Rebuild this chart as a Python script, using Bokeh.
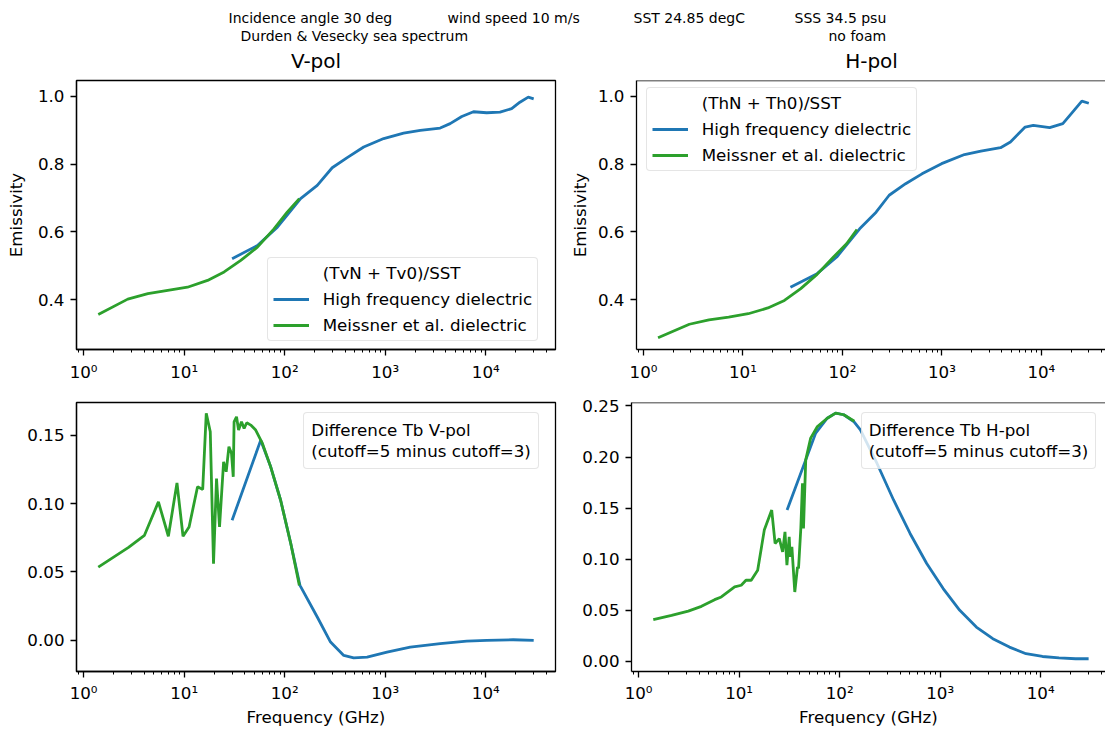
import numpy as np
from bokeh.plotting import figure
from bokeh.models import (Range1d, FixedTicker, CustomJSTickFormatter, PrintfTickFormatter,
                          Legend, LegendItem, Label, Span)
from bokeh.layouts import column, row
from bokeh.embed import file_html
from bokeh.resources import INLINE

# ---------------- data ----------------
# Top-left: V-pol emissivity
V_HF_FREQ = [30, 53.6, 84.7, 144, 211, 297, 419, 611, 966, 1524, 2234, 3524, 4426,
             5781, 7551, 10230, 13870, 18110, 21880, 26490, 30000]
V_HF_EMIS = [0.521, 0.560, 0.614, 0.698, 0.737, 0.789, 0.819, 0.850, 0.875, 0.891, 0.899,
             0.906, 0.919, 0.940, 0.954, 0.951, 0.953, 0.963, 0.982, 0.997, 0.992]
V_ME_FREQ = [1.4, 2.75, 4.36, 6.87, 10.8, 17.1, 25.0, 36.6, 53.6, 78.3, 106, 140]
V_ME_EMIS = [0.357, 0.402, 0.418, 0.428, 0.437, 0.457, 0.482, 0.516, 0.555,
             0.609, 0.658, 0.698]

# Top-right: H-pol emissivity
H_HF_FREQ = [30, 55.6, 87.7, 149, 218, 295, 432, 631, 993, 1687, 2466, 3890, 4887,
             6871, 8299, 12130, 16440, 20610, 25530, 30000]
H_HF_EMIS = [0.437, 0.477, 0.526, 0.609, 0.658, 0.708, 0.742, 0.771, 0.801, 0.828, 0.838,
             0.848, 0.865, 0.909, 0.914, 0.907, 0.919, 0.953, 0.985, 0.979]
H_ME_FREQ = [1.4, 2.89, 4.55, 7.18, 11.3, 17.8, 26.1, 38.1, 55.6, 81.3, 110, 140]
H_ME_EMIS = [0.288, 0.328, 0.341, 0.349, 0.359, 0.376, 0.398, 0.433, 0.475,
             0.526, 0.565, 0.607]

# Bottom-left: difference Tb V-pol
DV_HF_FREQ = [30, 57.8, 72.6, 91.2, 115, 142, 211, 286, 387, 486, 661, 1042, 1774,
              3524, 6471, 10230, 18790, 30000]
DV_HF_DIFF = [0.0878, 0.1463, 0.1268, 0.1024, 0.0708, 0.0402, 0.0171, -0.0012, -0.0110,
              -0.0127, -0.0122, -0.0085, -0.0049, -0.0024, -0.0005, 0.0, 0.0005, 0.0]
DV_ME_FREQ = [1.4, 2.8, 4.03, 5.55, 6.97, 8.49, 9.75, 11.2, 13.6, 15.3, 16.6, 18.2, 19.6,
              21.0, 22.5, 24.7, 26.2, 27.9, 29.6, 30.8, 31.4, 33.2, 34.8, 37.2, 39.5,
              42.0, 46.0, 51.5, 60.1, 72.6, 91.2, 115, 140]
DV_ME_DIFF = [0.0536, 0.0680, 0.0768, 0.1012, 0.0761, 0.1151, 0.0761, 0.0829, 0.1122,
              0.1103, 0.1659, 0.1524, 0.0561, 0.1183, 0.0829, 0.1305, 0.1232, 0.1415,
              0.1366, 0.1195, 0.1597, 0.1634, 0.1537, 0.1597, 0.1549, 0.1590, 0.1573,
              0.1537, 0.1439, 0.1268, 0.1024, 0.0708, 0.0402]

# Bottom-right: difference Tb H-pol
DH_HF_FREQ = [30, 57.8, 75.3, 91.2, 110, 138, 161, 235, 344, 502, 735, 1072, 1567, 2291,
              3342, 4887, 7145, 10420, 15240, 22280, 30000]
DH_HF_DIFF = [0.148, 0.2234, 0.2380, 0.2430, 0.2414, 0.2348, 0.2266, 0.1939, 0.1579,
              0.1251, 0.0957, 0.0711, 0.0498, 0.0334, 0.0220, 0.0138, 0.0073, 0.0046,
              0.0033, 0.0024, 0.0024]
DH_ME_FREQ = [1.4, 2.13, 3.12, 4.22, 5.71, 6.65, 9.02, 10.5, 11.7, 13.2, 15.3, 17.8, 21.1,
              22.8, 25.1, 27.1, 28.6, 29.9, 31.5, 32.2, 33.5, 35.8, 38.1, 39.0, 41.1,
              42.7, 43.7, 46.0, 51.5, 60.1, 75.3, 91.2, 110, 140]
DH_ME_DIFF = [0.0407, 0.0449, 0.0491, 0.0537, 0.0603, 0.0629, 0.0727, 0.0744, 0.0793,
              0.0793, 0.0891, 0.1284, 0.1480, 0.1153, 0.1200, 0.1071, 0.1267, 0.0940,
              0.1218, 0.1022, 0.1120, 0.0678, 0.0923, 0.0908, 0.1300, 0.1743, 0.1300,
              0.1972, 0.2185, 0.2299, 0.2380, 0.2430, 0.2414, 0.2350]

# tick values / labels
X_DECADES = [1, 10, 100, 1000, 10000]
X_DECADE_LABELS = ["10\u2070", "10\u00b9", "10\u00b2", "10\u00b3", "10\u2074"]
Y_TICKS_TOP = [0.4, 0.6, 0.8, 1.0]
Y_TICKS_DV = [0.0, 0.05, 0.10, 0.15]
Y_TICKS_DH = [0.0, 0.05, 0.10, 0.15, 0.20, 0.25]

HEADER_LINE1 = ["Incidence angle 30 deg", "wind speed 10 m/s", "SST 24.85 degC", "SSS 34.5 psu"]
HEADER_LINE2 = ["Durden & Vesecky sea spectrum", "no foam"]
PANEL_TITLES = ["V-pol", "H-pol"]

# ---------------- styling ----------------
FONT = "DejaVu Sans"
BLUE = "#1f77b4"
GREEN = "#2ca02c"
LW = 2.8
FS = "16.7px"

X_START = 0.85
X_END_LEFT = 49430
X_END_RIGHT = 44160
MINOR = [m * 10.0 ** e for e in range(-1, 5) for m in range(2, 10)]


def make_fig(width, height, mbl, mbr, mbt, mbb, x_end, y0, y1, yticks, yfmt, right=False):
    p = figure(width=width, height=height, x_axis_type="log",
               x_range=Range1d(X_START, x_end), y_range=Range1d(y0, y1),
               output_backend="svg", toolbar_location=None, title=None,
               min_border_left=mbl, min_border_right=mbr,
               min_border_top=mbt, min_border_bottom=mbb)
    p.grid.visible = False
    p.background_fill_color = "white"
    p.border_fill_color = "white"
    if right:
        p.outline_line_color = None
        p.add_layout(Span(location=y1, dimension="width", line_color="black",
                          line_width=1.3))
    else:
        p.outline_line_color = "black"
        p.outline_line_width = 1.3
    for ax in p.axis:
        ax.axis_line_color = "black"
        ax.axis_line_width = 1.3
        ax.major_tick_line_color = "black"
        ax.major_tick_line_width = 1.3
        ax.major_tick_in = 0
        ax.major_tick_out = 6
        ax.minor_tick_line_color = "black"
        ax.minor_tick_line_width = 1
        ax.minor_tick_in = 0
        ax.minor_tick_out = 3
        ax.major_label_text_font = FONT
        ax.major_label_text_font_size = FS
        ax.major_label_text_color = "black"
        ax.major_label_standoff = 6
        ax.axis_label_text_font = FONT
        ax.axis_label_text_font_size = FS
        ax.axis_label_text_font_style = "normal"
        ax.axis_label_text_color = "black"
    p.xaxis.ticker = FixedTicker(ticks=X_DECADES, minor_ticks=MINOR)
    p.xaxis.formatter = CustomJSTickFormatter(
        args=dict(vals=X_DECADES, labs=X_DECADE_LABELS),
        code="""
        for (let i = 0; i < vals.length; i++) {
            if (Math.abs(tick - vals[i]) < 1e-6 * vals[i]) { return labs[i]; }
        }
        return "";
        """)
    p.yaxis.ticker = FixedTicker(ticks=yticks)
    p.yaxis.formatter = PrintfTickFormatter(format=yfmt)
    p.yaxis.minor_tick_line_color = None
    return p


def style_legend(lg):
    lg.label_text_font = FONT
    lg.label_text_font_size = FS
    lg.label_text_color = "black"
    lg.border_line_color = "#cccccc"
    lg.border_line_width = 1
    lg.background_fill_color = "white"
    lg.background_fill_alpha = 0.8
    lg.margin = 0
    lg.label_height = 20
    lg.glyph_height = 20
    lg.border_radius = 4


def emis_legend(p, title, r_hf, r_me, loc):
    dummy = p.line(x=[], y=[], line_alpha=0)
    lg = Legend(items=[LegendItem(label=title, renderers=[dummy]),
                       LegendItem(label="High frequency dielectric", renderers=[r_hf]),
                       LegendItem(label="Meissner et al. dielectric", renderers=[r_me])],
                location=loc)
    style_legend(lg)
    lg.glyph_width = 36
    lg.label_standoff = 14
    lg.padding = 5
    lg.spacing = 6
    p.add_layout(lg)


def diff_legend(p, line1, loc):
    dummy = p.line(x=[], y=[], line_alpha=0)
    lg = Legend(items=[LegendItem(label=line1, renderers=[dummy]),
                       LegendItem(label="(cutoff=5 minus cutoff=3)", renderers=[dummy])],
                location=loc)
    style_legend(lg)
    lg.glyph_width = 0
    lg.label_standoff = 0
    lg.padding = 7
    lg.spacing = 1
    p.add_layout(lg)


# ---------------- header ----------------
HEADER_H = 76
header = figure(width=1105, height=HEADER_H, x_range=Range1d(0, 1105),
                y_range=Range1d(HEADER_H, 0),
                output_backend="svg", toolbar_location=None, title=None,
                x_axis_location=None, y_axis_location=None, min_border=0)
header.grid.visible = False
header.outline_line_color = None
header.background_fill_color = "white"
header.border_fill_color = "white"
for txt, x in zip(HEADER_LINE1, [228, 447, 633, 794]):
    header.add_layout(Label(x=x, y=17, text=txt, text_font=FONT, text_font_size="14px",
                            text_baseline="middle", text_align="left", text_color="black"))
for txt, x in zip(HEADER_LINE2, [240, 828]):
    header.add_layout(Label(x=x, y=35, text=txt, text_font=FONT, text_font_size="14px",
                            text_baseline="middle", text_align="left", text_color="black"))
for txt, x in zip(PANEL_TITLES, [315.5, 871]):
    header.add_layout(Label(x=x, y=60, text=txt, text_font=FONT, text_font_size="20px",
                            text_baseline="middle", text_align="center", text_color="black"))

# ---------------- panels ----------------
TOP_Y0, TOP_Y1 = 0.2536, 1.046
TOP_H = 388 - HEADER_H
TOP_MBT = 80 - HEADER_H
TOP_MBB = TOP_H - TOP_MBT - 269
BOT_H = 731 - 388
BOT_MBT = 402 - 388
BOT_MBB = BOT_H - BOT_MBT - 269

tl = make_fig(566, TOP_H, 76, 11, TOP_MBT, TOP_MBB, X_END_LEFT, TOP_Y0, TOP_Y1,
              Y_TICKS_TOP, "%.1f")
tl.yaxis.axis_label = "Emissivity"
tl.yaxis.axis_label_standoff = 9
r1 = tl.line(V_HF_FREQ, V_HF_EMIS, line_color=BLUE, line_width=LW)
r2 = tl.line(V_ME_FREQ, V_ME_EMIS, line_color=GREEN, line_width=LW)
emis_legend(tl, "(TvN + Tv0)/SST", r1, r2, (190.7, 8.5))

tr = make_fig(539, TOP_H, 65, 0, TOP_MBT, TOP_MBB, X_END_RIGHT, TOP_Y0, TOP_Y1,
              Y_TICKS_TOP, "%.1f", right=True)
tr.yaxis.axis_label = "Emissivity"
tr.yaxis.axis_label_standoff = 5
r3 = tr.line(H_HF_FREQ, H_HF_EMIS, line_color=BLUE, line_width=LW)
r4 = tr.line(H_ME_FREQ, H_ME_EMIS, line_color=GREEN, line_width=LW)
emis_legend(tr, "(ThN + Th0)/SST", r3, r4, (9.7, 178.5))

bl = make_fig(566, BOT_H, 76, 11, BOT_MBT, BOT_MBB, X_END_LEFT, -0.0227, 0.1738,
              Y_TICKS_DV, "%.2f")
bl.xaxis.axis_label = "Frequency (GHz)"
bl.xaxis.axis_label_standoff = 1
bl.xaxis.major_label_standoff = 5
bl.line(DV_HF_FREQ, DV_HF_DIFF, line_color=BLUE, line_width=LW)
bl.line(DV_ME_FREQ, DV_ME_DIFF, line_color=GREEN, line_width=LW)
diff_legend(bl, "Difference Tb V-pol", (227.3, 202))

br = make_fig(539, BOT_H, 65, 0, BOT_MBT, BOT_MBB, X_END_RIGHT, -0.0101, 0.2534,
              Y_TICKS_DH, "%.2f", right=True)
br.xaxis.axis_label = "Frequency (GHz)"
br.xaxis.axis_label_standoff = 1
br.xaxis.major_label_standoff = 5
br.line(DH_HF_FREQ, DH_HF_DIFF, line_color=BLUE, line_width=LW)
br.line(DH_ME_FREQ, DH_ME_DIFF, line_color=GREEN, line_width=LW)
diff_legend(br, "Difference Tb H-pol", (229.7, 202))

layout = column(header, row(tl, tr), row(bl, br))

open("out.html", "w").write(file_html(layout, INLINE))
